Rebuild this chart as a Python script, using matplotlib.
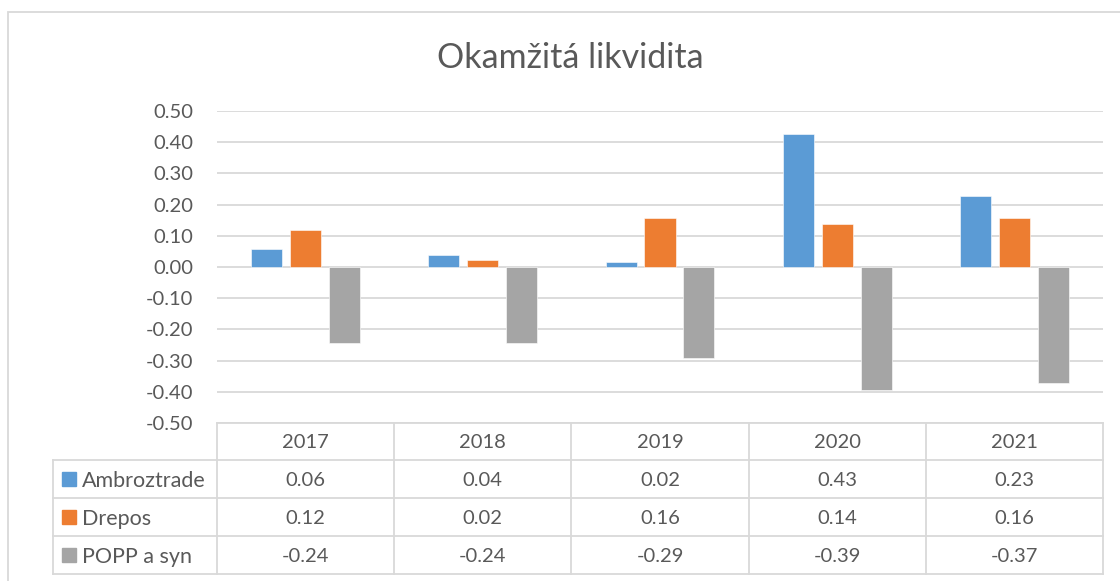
import numpy as np
import matplotlib
matplotlib.use("Agg")
import matplotlib.pyplot as plt
from matplotlib.transforms import blended_transform_factory
from matplotlib.patches import Rectangle

# data
years = ["2017", "2018", "2019", "2020", "2021"]
series_names = ["Ambroztrade", "Drepos", "POPP a syn"]
ambroztrade = [0.059, 0.037, 0.016, 0.426, 0.228]
drepos = [0.120, 0.021, 0.156, 0.137, 0.158]
popp = [-0.242, -0.244, -0.293, -0.394, -0.371]
yticks = [-0.5, -0.4, -0.3, -0.2, -0.1, 0.0, 0.1, 0.2, 0.3, 0.4, 0.5]

colors = ["#5B9BD5", "#ED7D31", "#A5A5A5"]
grid_c = "#D9D9D9"
text_c = "#595959"

plt.rcParams["font.family"] = ["Lato", "DejaVu Sans"]

W, H = 1120, 581
fig = plt.figure(figsize=(W / 100, H / 100), dpi=100)

def fx(px):
    return px / W

def fy(py):
    return 1 - py / H

# plot area
left, right, top, bottom = 217, 1103, 111, 423
ax = fig.add_axes([fx(left), fy(bottom), fx(right - left), (bottom - top) / H])

x = np.arange(len(years))
width = 0.175
offsets = [-0.22, 0, 0.22]
all_series = [ambroztrade, drepos, popp]
for vals, off, c in zip(all_series, offsets, colors):
    ax.bar(x + off, vals, width, color=c, edgecolor="white", linewidth=0.4, zorder=3)

ax.set_xlim(-0.5, len(years) - 0.5)
ax.set_ylim(-0.5, 0.5)
ax.set_yticks(yticks)
ax.set_yticklabels([f"{v:.2f}" for v in yticks], color=text_c, fontsize=14.5)
ax.tick_params(axis="y", length=0, pad=17)
ax.set_xticks([])
for s in ax.spines.values():
    s.set_visible(False)
for v in yticks:
    ax.axhline(v, color=grid_c, lw=1.3, zorder=1)

# title
fig.text(fx(570), fy(68), "Okamžitá likvidita", ha="center", va="baseline",
         fontsize=24.5, color=text_c)

# outer chart border (only top and left are in frame)
fig.patches.append(Rectangle((fx(8), -0.2), 1.2, fy(12) + 0.2, transform=fig.transFigure,
                             fill=False, edgecolor=grid_c, lw=1.3))

# data table under the plot
tr = blended_transform_factory(ax.transData, fig.transFigure)
rows_y = [423, 460, 498, 536, 574]
lab_left = 53
line_kw = dict(color=grid_c, lw=1.3, clip_on=False)

# header row
for i in range(len(years) + 1):
    xb = i - 0.5
    ax.plot([xb, xb], [fy(rows_y[0]), fy(rows_y[-1])], transform=tr, **line_kw)
for i, yr in enumerate(years):
    fig.text(0, fy((rows_y[0] + rows_y[1]) / 2), yr, transform=tr, ha="center",
             va="center_baseline", fontsize=14.5, color=text_c).set_x(x[i])
ax.plot([-0.5, len(years) - 0.5], [fy(rows_y[0])] * 2, transform=tr, **line_kw)

# series rows
fig.add_artist(plt.Line2D([fx(lab_left), fx(lab_left)], [fy(rows_y[1]), fy(rows_y[-1])],
                          transform=fig.transFigure, color=grid_c, lw=1.3))
for r in range(1, len(rows_y)):
    fig.add_artist(plt.Line2D([fx(lab_left), fx(right)], [fy(rows_y[r])] * 2,
                              transform=fig.transFigure, color=grid_c, lw=1.3))

for k, (name, vals, c) in enumerate(zip(series_names, all_series, colors)):
    yc = (rows_y[k + 1] + rows_y[k + 2]) / 2
    fig.patches.append(Rectangle((fx(62), fy(yc + 7)), fx(14), 14 / H,
                                 transform=fig.transFigure, color=c))
    fig.text(fx(82), fy(yc), name, ha="left", va="center_baseline",
             fontsize=15.5, color=text_c)
    for i, v in enumerate(vals):
        fig.text(x[i], fy(yc), f"{v:.2f}", transform=tr, ha="center",
                 va="center_baseline", fontsize=14.5, color=text_c)

fig.savefig("out.png", dpi=100)
